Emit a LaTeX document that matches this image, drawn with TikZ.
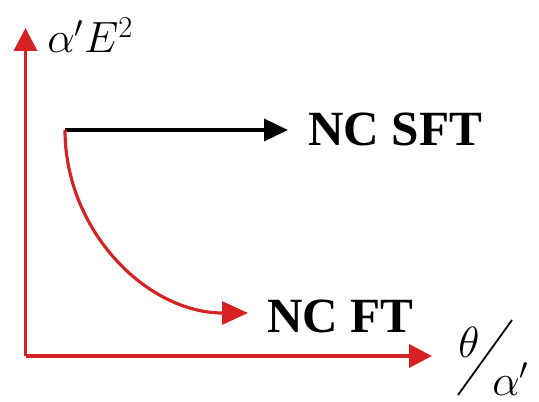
\documentclass[tikz,border=0pt]{standalone}
\usepackage{amsmath, amssymb}
\usepackage{fontspec}
\setmainfont{Liberation Serif}
\usepackage{tikz}
\usetikzlibrary{arrows.meta, calc}
\usepackage{xcolor}
\definecolor{axisred}{RGB}{214,34,34}

\begin{document}
\begin{tikzpicture}[>={Triangle[length=0.44cm, width=0.42cm]},
    axis/.style={line width=2.2pt, draw=axisred, -{Triangle[length=0.46cm, width=0.46cm, fill=axisred]}},
    flow/.style={line width=2pt, -{Triangle[length=0.48cm, width=0.44cm]}},
    big/.style={inner sep=0pt, font=\fontsize{28}{30}\selectfont\bfseries}]
  \useasboundingbox (0, 0) rectangle (10.78, 8.02);

  \coordinate (O) at (0.51, 0.90);
  \coordinate (ytip) at (0.51, 7.46);
  \coordinate (xtip) at (8.64, 0.90);
  \draw[axis] (O) -- (ytip);
  \draw[axis] (O) -- (xtip);
  \node[inner sep=0pt, anchor=base west] (ylab) at (0.94, 6.96)
    {\fontsize{23}{25}\selectfont $\alpha' E^{2}$};

  \node[big, anchor=base west] (sft) at (6.16, 5.12) {NC SFT};
  \node[big, anchor=base west] (ft) at (5.34, 1.38) {NC FT};

  \coordinate (corner) at (1.30, 5.42);
  \draw[flow, black, shorten >=0.4cm] (corner) -- (corner -| sft.west);
  \coordinate (fttip) at (4.96, 1.76);
  \draw[flow, line width=1.8pt, axisred, -{Triangle[length=0.52cm, width=0.46cm, fill=axisred]}]
    (corner) .. controls (1.30, 3.40) and (2.94, 1.76) .. (fttip);

  % theta over alpha'
  \node[inner sep=0pt, anchor=base west] (th) at (9.16, 0.88) {\fontsize{25}{27}\selectfont $\theta$};
  \node[inner sep=0pt, anchor=base west] (al) at (9.84, 0.12) {\fontsize{25}{27}\selectfont $\alpha'$};
  \coordinate (sl1) at (9.16, 0.12);
  \coordinate (sl2) at (10.24, 1.62);
  \draw[line width=1pt] (sl1) -- (sl2);
\end{tikzpicture}
\end{document}
